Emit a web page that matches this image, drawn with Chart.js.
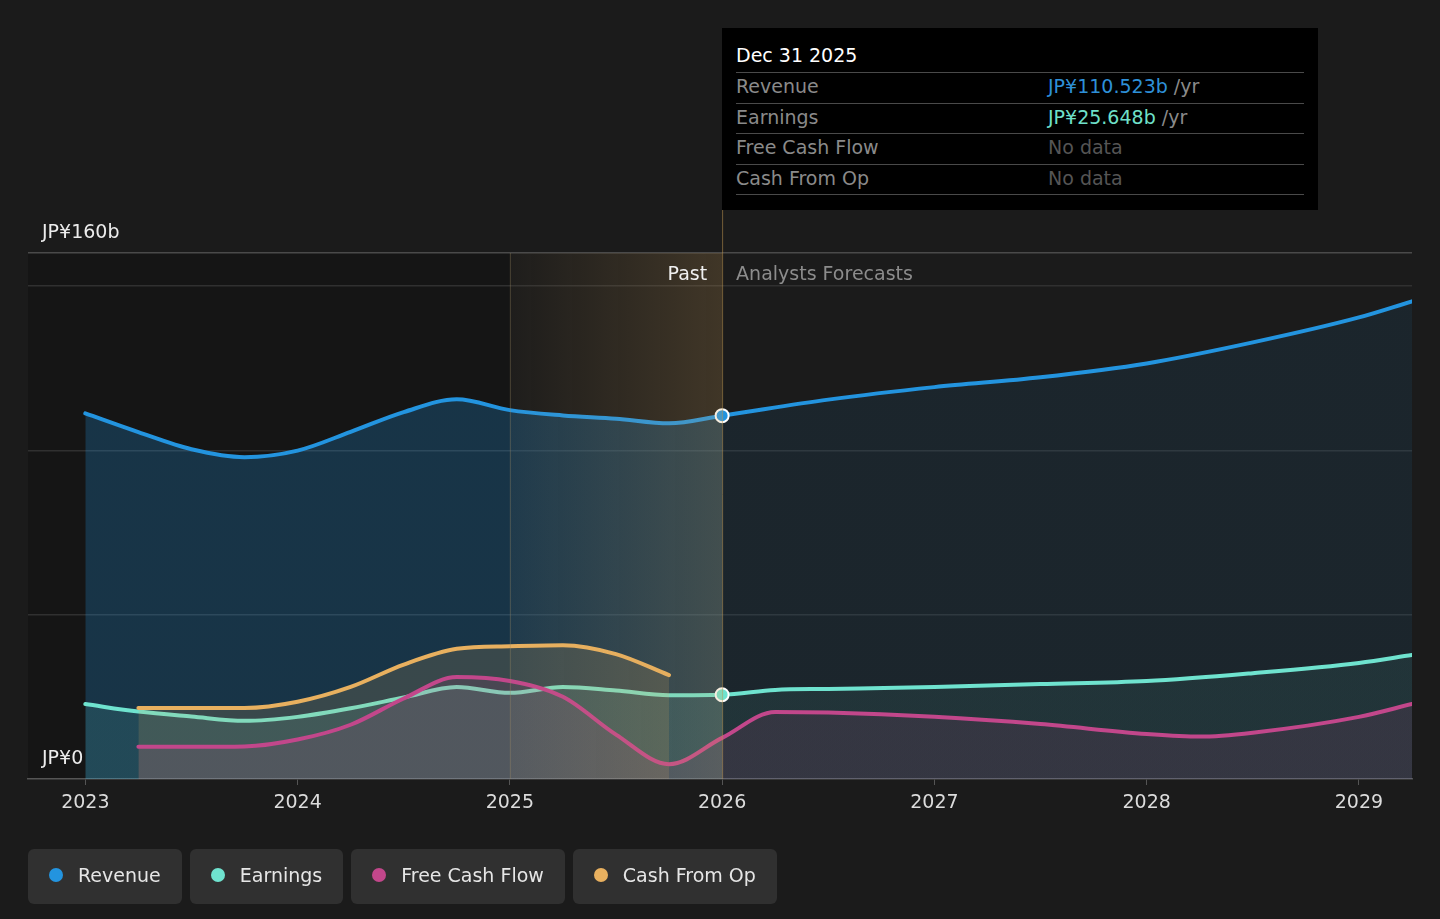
<!DOCTYPE html>
<html>
<head>
<meta charset="utf-8">
<script src="https://cdn.jsdelivr.net/npm/chart.js@4.4.1/dist/chart.umd.min.js"></script>
<style>
  body { margin: 0; background: #1b1b1b; width: 1440px; height: 919px; overflow: hidden; font-family: "DejaVu Sans", sans-serif; }
  #chart { position: absolute; left: 0; top: 0; }
  #tip { position: absolute; left: 722px; top: 28px; width: 596px; height: 182px; background: #000; box-sizing: border-box; padding: 0 14px; }
  #tip .title { height: 45px; box-sizing: border-box; padding-top: 16px; line-height: 22px; font-size: 19px; color: #fff; border-bottom: 1px solid #4a4a4a; }
  #tip .row { height: 30.5px; box-sizing: border-box; line-height: 27px; font-size: 19px; border-bottom: 1px solid #4a4a4a; position: relative; color: #8a8a8a; }
  #tip .row .val { position: absolute; left: 312px; top: 0; }
  #tip .unit { color: #8a8a8a; }
  #tip .nodata { color: #555; }
  #legend { position: absolute; left: 28px; top: 849px; display: flex; gap: 8px; }
  .pill { height: 55px; box-sizing: border-box; padding: 0 21px 3px 21px; background: #303030; border-radius: 6px; display: flex; align-items: center; font-size: 19px; color: #e6e6e6; }
  .pill .dot { width: 14px; height: 14px; border-radius: 50%; margin-right: 15px; }
</style>
</head>
<body>
<canvas id="chart" width="1440" height="919"></canvas>

<div id="tip">
  <div class="title">Dec 31 2025</div>
  <div class="row">Revenue<span class="val"><span style="color:#2e90d8">JP¥110.523b</span> <span class="unit">/yr</span></span></div>
  <div class="row">Earnings<span class="val"><span style="color:#6fe0c9">JP¥25.648b</span> <span class="unit">/yr</span></span></div>
  <div class="row">Free Cash Flow<span class="val nodata">No data</span></div>
  <div class="row">Cash From Op<span class="val nodata">No data</span></div>
</div>

<div id="legend">
  <div class="pill"><span class="dot" style="background:#2394df"></span>Revenue</div>
  <div class="pill"><span class="dot" style="background:#6fe3cf"></span>Earnings</div>
  <div class="pill"><span class="dot" style="background:#c2478b"></span>Free Cash Flow</div>
  <div class="pill"><span class="dot" style="background:#e8b05f"></span>Cash From Op</div>
</div>

<script>
// x positions (years) and values in JP¥ billions
var histYears = [2023, 2023.25, 2023.5, 2023.75, 2024, 2024.25, 2024.5, 2024.75, 2025, 2025.25, 2025.5, 2025.75, 2026];
var foreYears = [2026.5, 2027, 2027.5, 2028, 2028.5, 2029, 2029.25];

var revenueHist = [111.2, 105.5, 100.3, 97.9, 99.9, 105.6, 111.6, 115.5, 112.2, 110.6, 109.6, 108.2, 110.523];
var revenueFore = [115.4, 119.2, 122.2, 126.4, 132.8, 140.4, 145.3];

var earningsHist = [22.8, 20.5, 19.0, 17.7, 18.9, 21.5, 24.8, 28.0, 26.2, 28.0, 26.9, 25.5, 25.648];
var earningsForeYears = [2026.25, 2026.5, 2027, 2027.5, 2028, 2028.5, 2029, 2029.25];
var earningsFore = [27.1, 27.4, 28.0, 28.9, 29.8, 32.2, 35.3, 37.7];

var fcfYears = [2023.25, 2023.5, 2023.75, 2024, 2024.25, 2024.5, 2024.75, 2025, 2025.25, 2025.5, 2025.75, 2026,
                2026.25, 2026.5, 2027, 2027.5, 2028, 2028.25, 2028.5, 2029, 2029.25];
var fcfValues = [9.8, 9.8, 9.9, 12.0, 16.5, 24.5, 31.0, 29.8, 25.0, 13.5, 4.5, 12.5,
                 20.4, 20.2, 18.9, 16.7, 13.7, 12.9, 14.1, 18.9, 22.8];

var cfoYears = [2023.25, 2023.5, 2023.75, 2024, 2024.25, 2024.5, 2024.75, 2025, 2025.25, 2025.5, 2025.75];
var cfoValues = [21.6, 21.6, 21.6, 23.5, 28.0, 34.8, 39.6, 40.4, 40.7, 38.0, 31.6];

var xTickYears = [2023, 2024, 2025, 2026, 2027, 2028, 2029];
var yGridValues = [0, 50, 100, 150, 160];
var yLabelValues = [0, 160];

var pastStart = 2025;
var today = 2026;

function pairs(xs, ys) {
  return xs.map(function(x, i) { return { x: x, y: ys[i] }; });
}

// fill that changes colour at the "today" line
function splitFill(histColor, foreColor) {
  return function(c) {
    var chart = c.chart, area = chart.chartArea;
    if (!area) return histColor;
    var f = (chart.scales.x.getPixelForValue(today) - area.left) / (area.right - area.left);
    var g = chart.ctx.createLinearGradient(area.left, 0, area.right, 0);
    g.addColorStop(0, histColor);
    g.addColorStop(f, histColor);
    g.addColorStop(Math.min(1, f + 0.0005), foreColor);
    g.addColorStop(1, foreColor);
    return g;
  };
}

function todayDot(c) {
  return c.raw && c.raw.x === today ? 6.5 : 0;
}

var backdrop = {
  id: 'backdrop',
  beforeDraw: function(chart) {
    var ctx = chart.ctx, a = chart.chartArea, x = chart.scales.x;
    ctx.save();
    ctx.fillStyle = 'rgba(0,0,0,0.22)';
    ctx.fillRect(a.left, a.top, x.getPixelForValue(pastStart) - a.left, a.bottom - a.top);
    ctx.restore();
  },
  afterDatasetsDraw: function(chart) {
    var ctx = chart.ctx, a = chart.chartArea, x = chart.scales.x, y = chart.scales.y;
    var x0 = x.getPixelForValue(pastStart), x1 = x.getPixelForValue(today);
    ctx.save();
    var g = ctx.createLinearGradient(x0, 0, x1, 0);
    g.addColorStop(0, 'rgba(215,165,90,0.02)');
    g.addColorStop(1, 'rgba(215,165,90,0.2)');
    ctx.fillStyle = g;
    ctx.fillRect(x0, a.top, x1 - x0, a.bottom - a.top);

    // past / today lines
    ctx.lineWidth = 1;
    ctx.strokeStyle = 'rgba(160,140,100,0.35)';
    ctx.beginPath(); ctx.moveTo(x0 + 0.5, a.top); ctx.lineTo(x0 + 0.5, a.bottom); ctx.stroke();
    ctx.strokeStyle = 'rgba(190,150,80,0.55)';
    ctx.beginPath(); ctx.moveTo(x1 + 0.5, 210); ctx.lineTo(x1 + 0.5, a.bottom); ctx.stroke();

    ctx.font = '19px "DejaVu Sans"';
    ctx.textBaseline = 'middle';
    ctx.textAlign = 'right';
    ctx.fillStyle = '#f0f0f0';
    ctx.fillText('Past', x1 - 15, a.top + 22);
    ctx.textAlign = 'left';
    ctx.fillStyle = '#8c8c8c';
    ctx.fillText('Analysts Forecasts', x1 + 14, a.top + 22);

    // y labels sit just above their lines
    ctx.fillStyle = '#ececec';
    yLabelValues.forEach(function(v) {
      var txt = v === 0 ? 'JP¥0' : 'JP¥' + v + 'b';
      ctx.fillText(txt, 42, y.getPixelForValue(v) - 20);
    });
    ctx.restore();
  }
};

var ctx = document.getElementById('chart').getContext('2d');
new Chart(ctx, {
  type: 'line',
  data: {
    datasets: [
      {
        label: 'Revenue',
        data: pairs(histYears, revenueHist).concat(pairs(foreYears, revenueFore)),
        borderColor: '#2394df',
        backgroundColor: splitFill('rgba(35,148,223,0.25)', 'rgba(35,148,223,0.09)'),
        fill: 'origin',
        order: 4,
        pointRadius: todayDot,
        pointBackgroundColor: '#2394df',
        pointBorderColor: '#ffffff',
        pointBorderWidth: 2
      },
      {
        label: 'Earnings',
        data: pairs(histYears, earningsHist).concat(pairs(earningsForeYears, earningsFore)),
        borderColor: '#6fe3cf',
        backgroundColor: splitFill('rgba(111,227,207,0.12)', 'rgba(111,227,207,0.08)'),
        fill: 'origin',
        order: 3,
        pointRadius: todayDot,
        pointBackgroundColor: '#6fe3cf',
        pointBorderColor: '#ffffff',
        pointBorderWidth: 2
      },
      {
        label: 'Cash From Op',
        data: pairs(cfoYears, cfoValues),
        borderColor: '#e8b05f',
        backgroundColor: 'rgba(232,176,95,0.16)',
        fill: 'origin',
        order: 2,
        pointRadius: 0
      },
      {
        label: 'Free Cash Flow',
        data: pairs(fcfYears, fcfValues),
        borderColor: '#c2478b',
        backgroundColor: 'rgba(194,71,139,0.12)',
        fill: 'origin',
        order: 1,
        pointRadius: 0
      }
    ]
  },
  options: {
    responsive: false,
    animation: false,
    events: [],
    layout: { padding: { left: 28, right: 28, top: 253, bottom: 100 } },
    elements: {
      line: { borderWidth: 4, cubicInterpolationMode: 'monotone', borderCapStyle: 'round' }
    },
    plugins: {
      legend: { display: false },
      tooltip: { enabled: false }
    },
    scales: {
      x: {
        type: 'linear',
        min: 2022.73,
        max: 2029.25,
        afterFit: function(axis) { axis.height = 40; },
        afterBuildTicks: function(axis) {
          axis.ticks = xTickYears.map(function(v) { return { value: v }; });
        },
        ticks: {
          color: '#dcdcdc',
          font: { family: 'DejaVu Sans', size: 19 },
          padding: 7,
          maxRotation: 0,
          callback: function(v) { return String(v); }
        },
        grid: { drawOnChartArea: false, drawTicks: true, tickLength: 6, color: '#555' },
        border: { color: '#555', width: 1.5 }
      },
      y: {
        min: 0,
        max: 160,
        afterFit: function(axis) { axis.width = 0; },
        afterBuildTicks: function(axis) {
          axis.ticks = yGridValues.map(function(v) { return { value: v }; });
        },
        ticks: { display: false },
        grid: {
          drawTicks: false,
          color: function(c) {
            if (c.tick.value === 160) return '#4a4a4a';
            if (c.tick.value === 0) return 'rgba(0,0,0,0)';
            return '#303030';
          },
          lineWidth: 1.5
        },
        border: { display: false }
      }
    }
  },
  plugins: [backdrop]
});
</script>
</body>
</html>
